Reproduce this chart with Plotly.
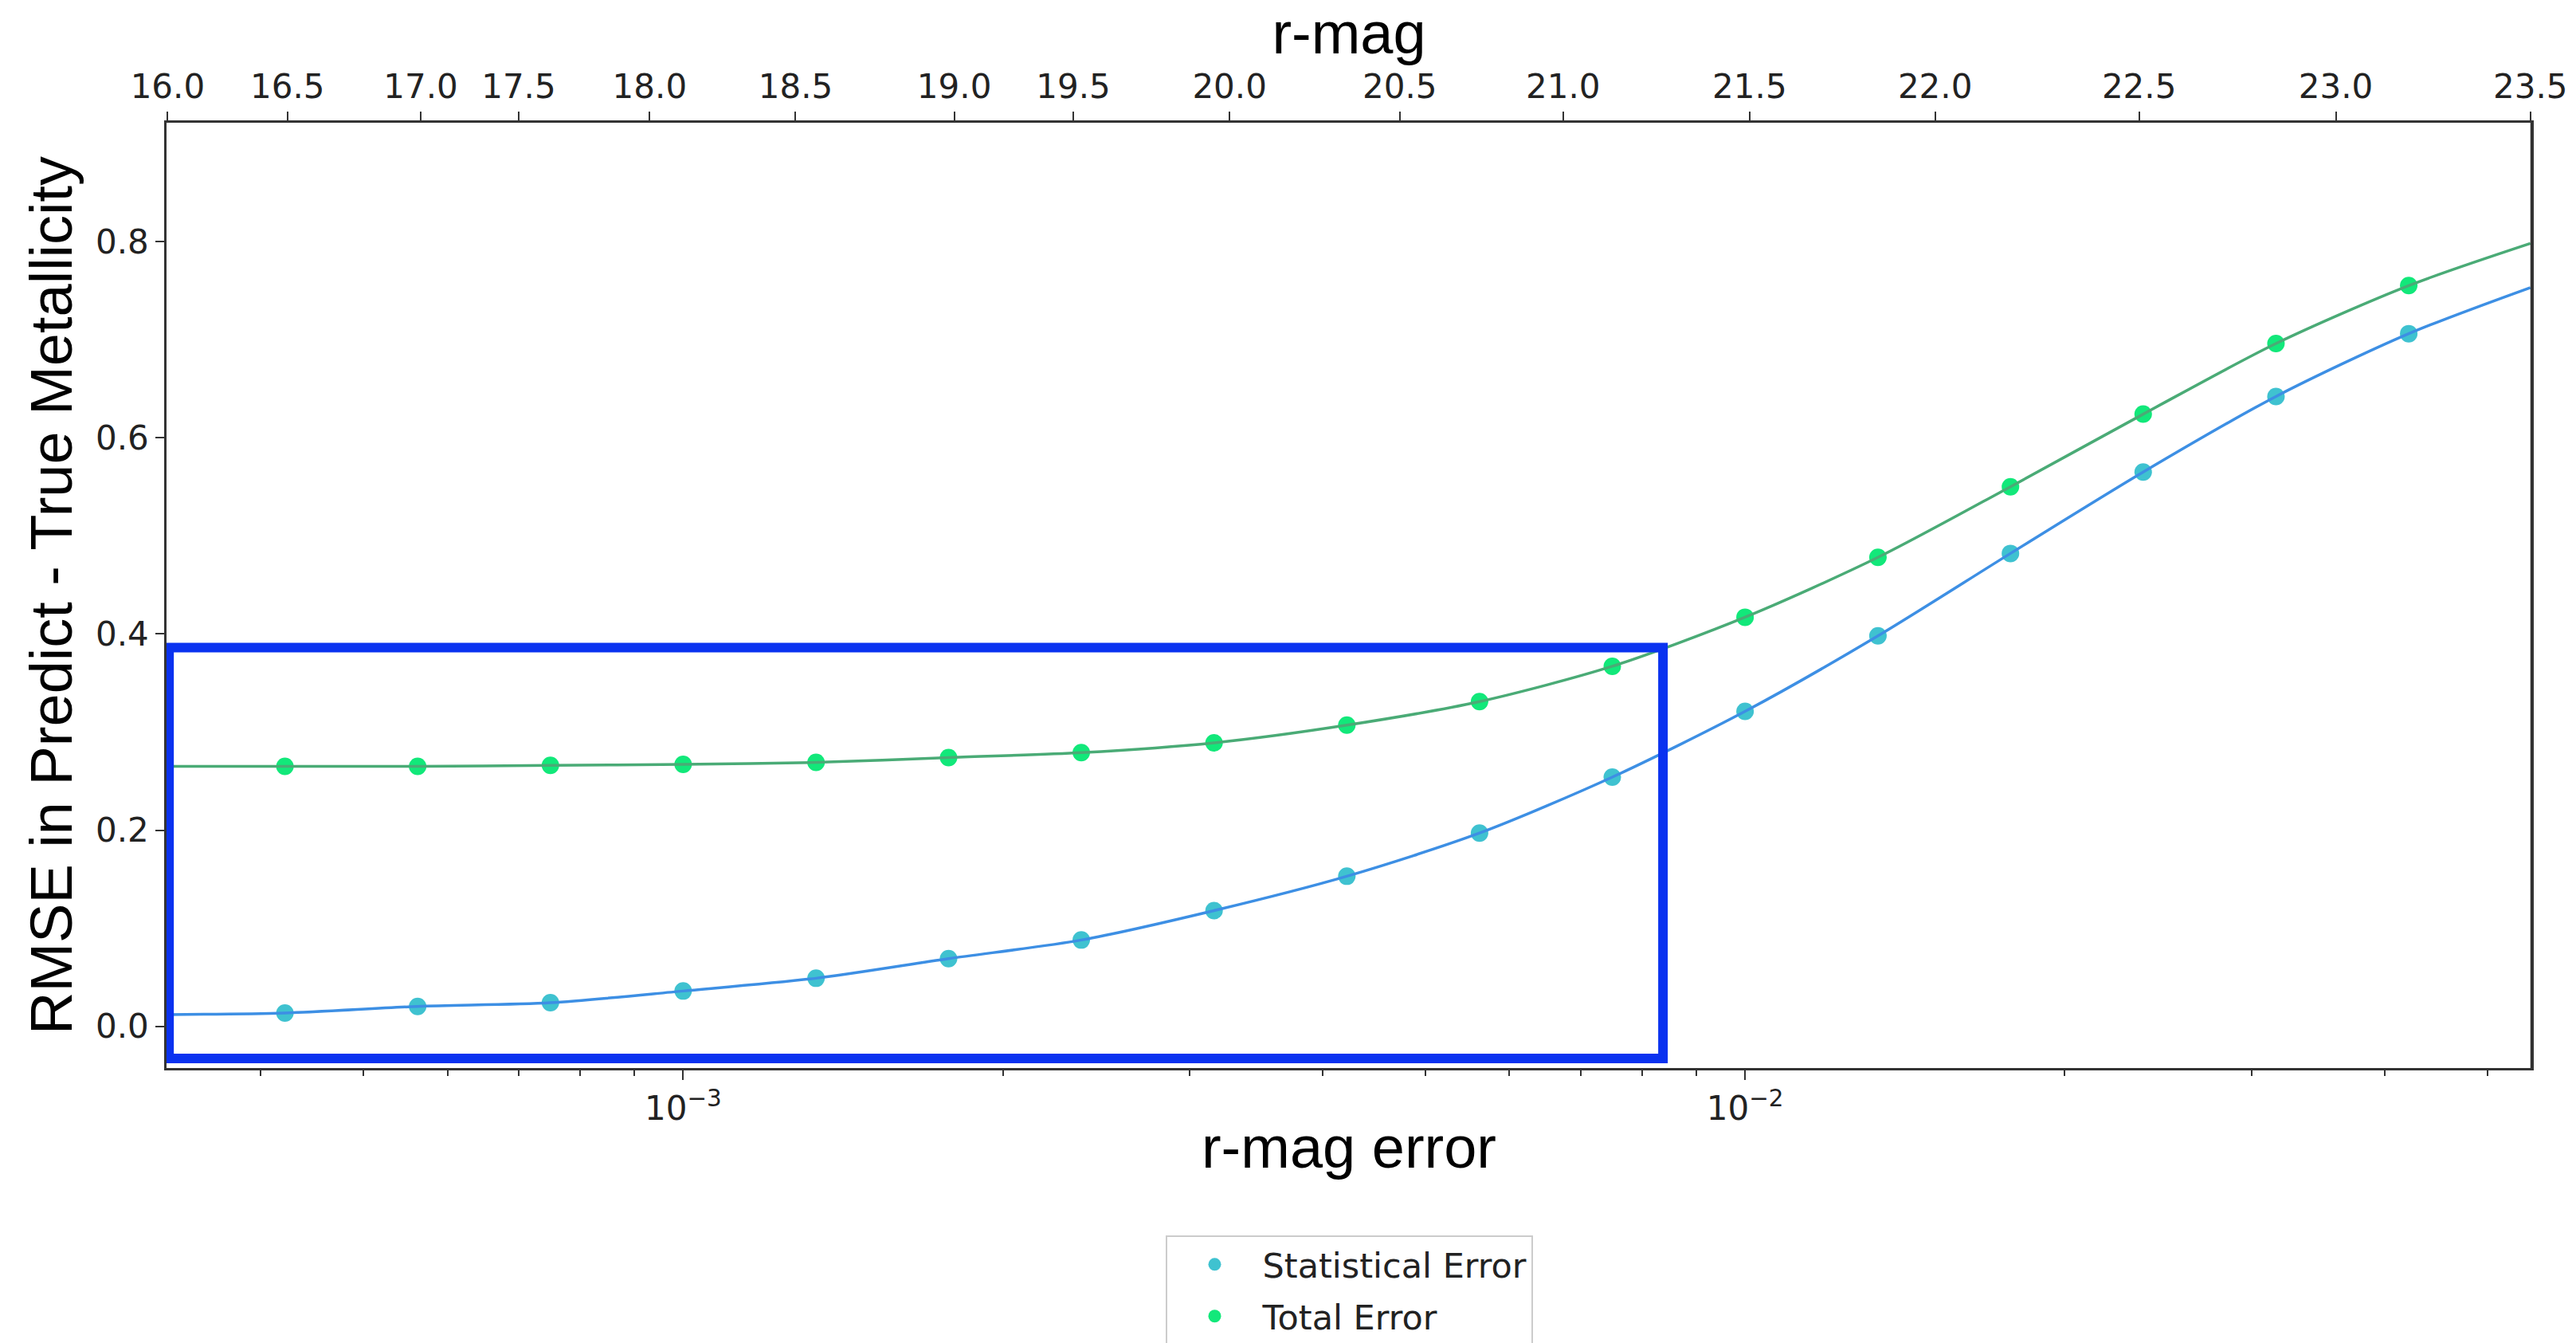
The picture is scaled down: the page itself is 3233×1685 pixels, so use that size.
import plotly.graph_objects as go

# ---------------- data ----------------
rmag_error = [4.217e-4, 5.623e-4, 7.499e-4, 1.0e-3, 1.334e-3, 1.778e-3, 2.371e-3,
              3.162e-3, 4.217e-3, 5.623e-3, 7.499e-3, 1.0e-2, 1.334e-2, 1.778e-2,
              2.371e-2, 3.162e-2, 4.217e-2]
stat_error = [0.0136, 0.0203, 0.0241, 0.036, 0.049, 0.069, 0.088, 0.118, 0.153,
              0.197, 0.254, 0.321, 0.398, 0.482, 0.565, 0.642, 0.706]
total_error = [0.265, 0.265, 0.266, 0.267, 0.269, 0.274, 0.279, 0.289, 0.307,
               0.331, 0.367, 0.417, 0.478, 0.550, 0.624, 0.696, 0.755]

# smooth fit curves (extend to the axis edges)
fit_x = [3.27e-4] + rmag_error + [5.49e-2]
fit_stat = [0.0120] + stat_error + [0.753]
fit_total = [0.265] + total_error + [0.798]

# top axis: r-mag tick labels and their r-mag-error positions
rmag_labels = ["16.0", "16.5", "17.0", "17.5", "18.0", "18.5", "19.0", "19.5",
               "20.0", "20.5", "21.0", "21.5", "22.0", "22.5", "23.0", "23.5"]
rmag_positions = [3.27e-4, 4.24e-4, 5.66e-4, 7.0e-4, 9.3e-4, 1.276e-3, 1.80e-3,
                  2.33e-3, 3.27e-3, 4.73e-3, 6.74e-3, 1.01e-2, 1.51e-2, 2.35e-2,
                  3.60e-2, 5.49e-2]

bottom_tickvals = [1e-3, 1e-2]
bottom_ticktext = ["10<sup>\u22123</sup>", "10<sup>\u22122</sup>"]
bottom_minor = [4e-4, 5e-4, 6e-4, 7e-4, 8e-4, 9e-4,
                2e-3, 3e-3, 4e-3, 5e-3, 6e-3, 7e-3, 8e-3, 9e-3,
                2e-2, 3e-2, 4e-2, 5e-2]
y_ticks = [0.0, 0.2, 0.4, 0.6, 0.8]

# highlighted region (hand-drawn box)
box_x = [3.28e-4, 8.37e-3]
box_y = [-0.0327, 0.386]

# ---------------- figure ----------------
STAT_MARK = "#3fc2d0"
TOT_MARK = "#12e87a"
STAT_LINE = "#3d8fe4"
TOT_LINE = "#4aab76"

fig = go.Figure()
fig.add_trace(go.Scatter(x=rmag_error, y=stat_error, mode="markers",
                         name="Statistical Error", legendgroup="a",
                         marker=dict(color=STAT_MARK, size=22, line=dict(width=0))))
fig.add_trace(go.Scatter(x=rmag_error, y=total_error, mode="markers",
                         name="Total Error", legendgroup="b",
                         marker=dict(color=TOT_MARK, size=22, line=dict(width=0))))
fig.add_trace(go.Scatter(x=fit_x, y=fit_stat, mode="lines", showlegend=False,
                         line=dict(color=STAT_LINE, width=3.5, shape="spline",
                                   smoothing=0.8)))
fig.add_trace(go.Scatter(x=fit_x, y=fit_total, mode="lines", showlegend=False,
                         line=dict(color=TOT_LINE, width=3.5, shape="spline",
                                   smoothing=0.8)))
# dummy trace to activate top axis
fig.add_trace(go.Scatter(x=[rmag_positions[0]], y=[None], xaxis="x2",
                         showlegend=False, hoverinfo="skip"))

xr = [-3.4865, -1.2595]
tick_font = dict(family="DejaVu Sans", size=42, color="#222")
title_font = dict(family="Liberation Sans, Arial", size=74, color="black")

fig.update_layout(
    width=3233, height=1685,
    margin=dict(l=209, r=56, t=154, b=345, autoexpand=False),
    paper_bgcolor="white", plot_bgcolor="white",
    xaxis=dict(type="log", range=xr, tickmode="array", tickvals=bottom_tickvals,
               ticktext=bottom_ticktext, ticks="outside", ticklen=12, tickwidth=2,
               tickcolor="#333", tickfont=tick_font, showgrid=False, zeroline=False,
               showline=True, linecolor="#333", linewidth=2.5, mirror=False,
               minor=dict(tickmode="array", tickvals=bottom_minor, ticks="outside",
                          ticklen=7, tickwidth=1.5, tickcolor="#333", showgrid=False),
               title=dict(text="r-mag error", font=title_font, standoff=0)),
    xaxis2=dict(type="log", range=xr, overlaying="x", side="top", anchor="y",
                tickmode="array", tickvals=rmag_positions, ticktext=rmag_labels,
                ticks="outside", ticklen=11, tickwidth=2, tickcolor="#333",
                tickfont=tick_font, showgrid=False, zeroline=False,
                showline=True, linecolor="#333", linewidth=2.5,
                title=dict(text="r-mag", font=title_font, standoff=2)),
    yaxis=dict(range=[-0.0425, 0.921], tickmode="array", tickvals=y_ticks,
               tickformat=".1f", ticks="outside", ticklen=11, tickwidth=2,
               tickcolor="#333", tickfont=tick_font, showgrid=False, zeroline=False,
               showline=True, linecolor="#333", linewidth=2.5, mirror=True,
               title=dict(text="RMSE in Predict - True Metallicity", font=title_font,
                          standoff=6)),
    legend=dict(x=0.5, xanchor="center", y=-0.177, yanchor="top",
                bgcolor="white", bordercolor="#cccccc", borderwidth=2,
                font=dict(family="DejaVu Sans", size=43, color="#222"),
                itemwidth=110, tracegroupgap=6, traceorder="grouped"),
    shapes=[dict(type="rect", xref="x", yref="y", x0=box_x[0], x1=box_x[1],
                 y0=box_y[0], y1=box_y[1], line=dict(color="#0a32f0", width=12),
                 layer="above")],
)
# right border line
fig.add_shape(type="line", xref="paper", yref="paper", x0=1, x1=1, y0=0, y1=1,
              line=dict(color="#333", width=2.5))

fig.write_html("out.html")
